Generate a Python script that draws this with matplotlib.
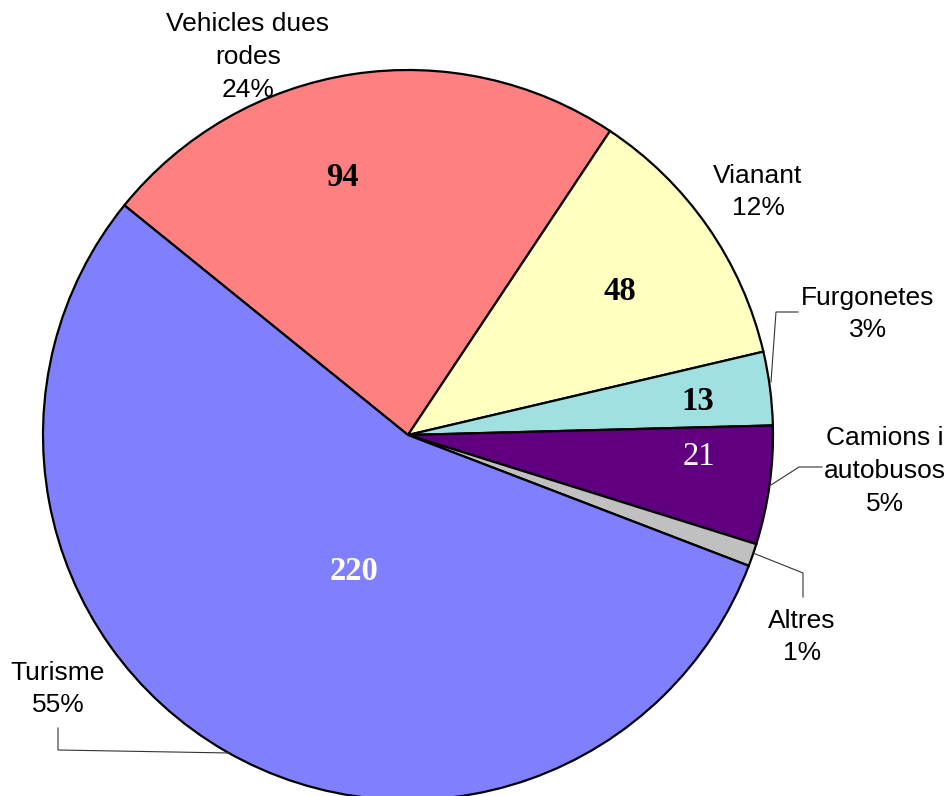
import matplotlib
matplotlib.use("Agg")
import matplotlib.pyplot as plt

# ---- data ----
categories = ["Vehicles dues\nrodes", "Vianant", "Furgonetes", "Camions i\nautobusos", "Altres", "Turisme"]
values = [94, 48, 13, 21, 4, 220]
pct_labels = ["24%", "12%", "3%", "5%", "1%", "55%"]
colors = ["#FF8080", "#FFFFC0", "#A0E0E0", "#600080", "#C0C0C0", "#8080FF"]

W, H = 949, 796
fig = plt.figure(figsize=(W / 100, H / 100), dpi=100)
ax = fig.add_axes([0, 0, 1, 1])

cx, cy, R = 408, H - 435, 365
wedges, _ = ax.pie(values, colors=colors, startangle=141, counterclock=False,
                   center=(cx, cy), radius=R,
                   wedgeprops=dict(edgecolor="black", linewidth=1.6))
ax.set_xlim(0, W)
ax.set_ylim(0, H)
ax.set_aspect("equal")
ax.axis("off")

# category labels (x, y in pixel coordinates from top)
label_pos = [(248, 57), (758, 192), (868, 314), (885, 471), (802, 637), (58, 689)]
for cat, pct, (x, y) in zip(categories, pct_labels, label_pos):
    ax.text(x, H - y, f"{cat}\n{pct}", ha="center", va="center",
            fontsize=19, family="Liberation Sans", linespacing=1.45)

# value labels
val_pos = [(342, 177), (620, 291), (698, 401), (699, 457), None, (354, 572)]
val_style = [("black", "bold"), ("black", "bold"), ("black", "bold"),
             ("white", "normal"), None, ("white", "bold")]
for v, p, st in zip(values, val_pos, val_style):
    if p is None:
        continue
    ax.text(p[0], H - p[1], str(v), ha="center", va="center",
            fontsize=23.5, family="Liberation Serif", color=st[0], fontweight=st[1])

# leader lines
leaders = [
    [(771, 382), (776, 312), (798, 312)],
    [(771, 485), (799, 467), (822, 467)],
    [(753, 553), (803, 573), (803, 597)],
    [(230, 753), (58, 750), (58, 728)],
]
for pts in leaders:
    xs = [p[0] for p in pts]
    ys = [H - p[1] for p in pts]
    ax.plot(xs, ys, color="#333333", linewidth=0.8)

fig.savefig("out.png", dpi=100)
